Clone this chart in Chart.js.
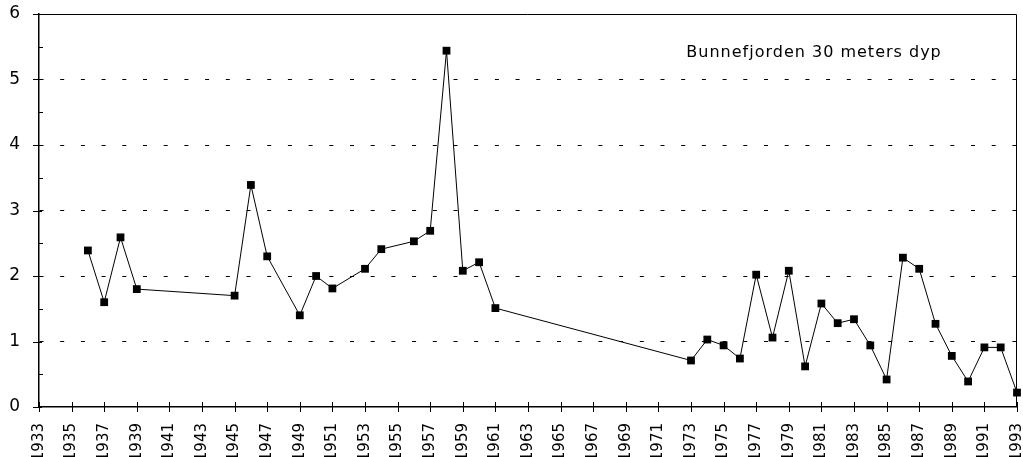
<!DOCTYPE html>
<html>
<head>
<meta charset="utf-8">
<script src="https://cdn.jsdelivr.net/npm/chart.js@4/dist/chart.umd.min.js"></script>
<style>
  html, body { margin: 0; padding: 0; background: #fff; }
  #wrap { width: 1023px; height: 457px; }
</style>
</head>
<body>
<div id="wrap"><canvas id="c"></canvas></div>
<script>
// data
const years = [1936, 1937, 1938, 1939, 1945, 1946, 1947, 1949, 1950, 1951,
    1953, 1954, 1956, 1957, 1958, 1959, 1960, 1961, 1973, 1974,
    1975, 1976, 1977, 1978, 1979, 1980, 1981, 1982, 1983, 1984,
    1985, 1986, 1987, 1988, 1989, 1990, 1991, 1992, 1993];
const values = [2.39, 1.6, 2.59, 1.8, 1.7, 3.39, 2.3, 1.4, 2.0, 1.81,
    2.11, 2.41, 2.53, 2.69, 5.44, 2.08, 2.21, 1.51, 0.71, 1.03,
    0.94, 0.74, 2.02, 1.06, 2.08, 0.62, 1.58, 1.28, 1.34, 0.94,
    0.42, 2.28, 2.11, 1.27, 0.78, 0.39, 0.91, 0.91, 0.22];
const seriesLabel = 'Bunnefjorden 30 meters dyp';
const xMin = 1933, xMax = 1993, xStep = 2;
const yMin = 0, yMax = 6;

const points = years.map((y, i) => ({ x: y, y: values[i] }));

// frame, tick marks and the label in the corner
const decor = {
    id: 'decor',
    afterDraw(chart) {
        const ctx = chart.ctx;
        const a = chart.chartArea;
        const xs = chart.scales.x, ys = chart.scales.y;
        ctx.save();
        ctx.strokeStyle = '#000';
        ctx.lineWidth = 1;
        ctx.beginPath();
        ctx.moveTo(a.left, a.top + 0.5);
        ctx.lineTo(a.right - 0.5, a.top + 0.5);
        ctx.lineTo(a.right - 0.5, a.bottom);
        ctx.stroke();

        ctx.beginPath();
        for (let v = yMin; v <= yMax; v += 0.5) {
            const py = Math.round(ys.getPixelForValue(v)) + 0.5;
            if (v % 1 === 0) {
                ctx.moveTo(a.left - 6, py);
                ctx.lineTo(a.left + 3, py);
            } else {
                ctx.moveTo(a.left, py);
                ctx.lineTo(a.left + 4, py);
            }
        }
        for (let v = xMin; v <= xMax; v += xStep) {
            const px = Math.round(xs.getPixelForValue(v)) + 0.5;
            ctx.moveTo(px, a.bottom - 5);
            ctx.lineTo(px, a.bottom + 5);
        }
        ctx.stroke();

        ctx.fillStyle = '#000';
        ctx.font = '16px "DejaVu Sans"';
        ctx.letterSpacing = '1px';
        ctx.textAlign = 'center';
        ctx.textBaseline = 'middle';
        ctx.fillText(seriesLabel, xs.getPixelForValue(1980.55), ys.getPixelForValue(5.4));
        ctx.restore();
    }
};

new Chart(document.getElementById('c'), {
    type: 'line',
    data: {
        datasets: [{
            label: seriesLabel,
            data: points,
            borderColor: '#000',
            borderWidth: 1,
            backgroundColor: '#000',
            pointStyle: 'rect',
            pointRadius: 5.5,
            pointBorderWidth: 0,
            tension: 0,
            clip: false
        }]
    },
    options: {
        responsive: true,
        maintainAspectRatio: false,
        animation: false,
        layout: { padding: { left: 0, right: 6, top: 14, bottom: 0 } },
        plugins: {
            legend: { display: false },
            tooltip: { enabled: false }
        },
        scales: {
            x: {
                type: 'linear',
                min: xMin,
                max: xMax,
                grid: { display: false, drawTicks: false },
                border: { color: '#000', width: 1.5 },
                afterFit(s) {
                    s.height = 50;
                    s.paddingLeft = 0;
                    s.paddingRight = 0;
                },
                ticks: {
                    stepSize: xStep,
                    autoSkip: false,
                    minRotation: 90,
                    maxRotation: 90,
                    padding: 16,
                    color: '#000',
                    font: { family: 'DejaVu Sans', size: 15 },
                    callback: v => String(v)
                }
            },
            y: {
                min: yMin,
                max: yMax,
                border: { color: '#000', width: 1.5, dash: [4, 16.7] },
                afterFit(s) {
                    s.width = 39;
                    s.paddingTop = 0;
                    s.paddingBottom = 0;
                },
                grid: {
                    drawTicks: false,
                    color: c => (c.tick.value > yMin && c.tick.value < yMax) ? '#000' : 'transparent'
                },
                ticks: {
                    stepSize: 1,
                    padding: 19,
                    color: '#000',
                    font: { family: 'DejaVu Sans', size: 17 }
                }
            }
        }
    },
    plugins: [decor]
});
</script>
</body>
</html>
